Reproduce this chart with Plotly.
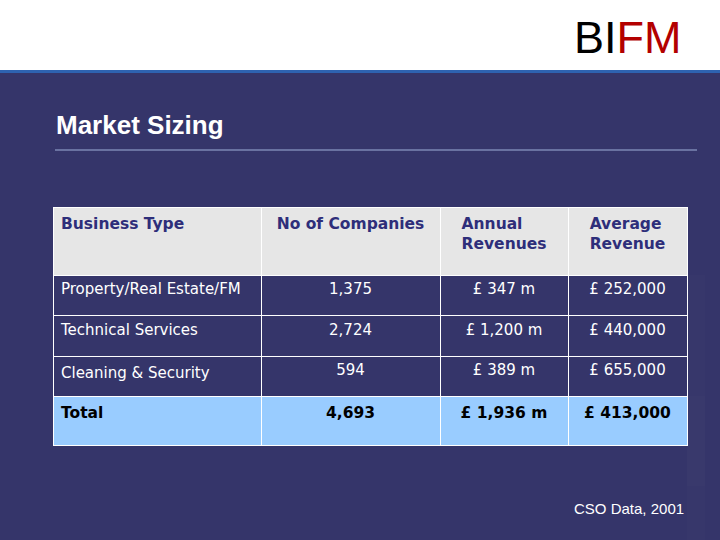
import plotly.graph_objects as go

headers = ["Business Type", "No of Companies", "Annual<br>Revenues", "Average<br>Revenue"]
business_types = ["Property/Real Estate/FM", "Technical Services", "Cleaning & Security"]
companies = ["1,375", "2,724", "594"]
annual_revenues = ["£ 347 m", "£ 1,200 m", "£ 389 m"]
average_revenue = ["£ 252,000", "£ 440,000", "£ 655,000"]
total_row = ["Total", "4,693", "£ 1,936 m", "£ 413,000"]

W, H = 720, 540
colw = [208, 179, 128, 119]
x0, x1 = 53 / W, 687 / W
font = "DejaVu Sans"
line = dict(color="white", width=1)

fig = go.Figure()
fig.add_trace(go.Table(
    domain=dict(x=[x0, x1], y=[0.1, 1 - 207 / H]),
    columnwidth=colw,
    header=dict(values=[f"<b>{h}</b>" for h in headers], height=68,
                fill_color="#e6e6e6", line=line,
                align=["left", "center", "center", "center"],
                font=dict(family=font, size=15.5, color="#2e2e7a")),
    cells=dict(values=[business_types, companies, annual_revenues, average_revenue],
               height=40.5, fill_color="#35356a", line=line,
               align=["left", "center", "center", "center"],
               font=dict(family=font, size=15, color="white")),
))
fig.add_trace(go.Table(
    domain=dict(x=[x0, x1], y=[0.0, 1 - 396 / H]),
    columnwidth=colw,
    header=dict(values=[f"<b>{v}</b>" for v in total_row], height=49,
                fill_color="#99ccff", line=line,
                align=["left", "center", "center", "center"],
                font=dict(family=font, size=15.5, color="black")),
    cells=dict(values=[[], [], [], []], height=0),
))

fig.update_layout(
    width=W, height=H, margin=dict(l=0, r=0, t=0, b=0),
    paper_bgcolor="#35356a", plot_bgcolor="#35356a",
    shapes=[
        dict(type="rect", xref="paper", yref="paper", x0=0, x1=1, y0=1 - 70 / H, y1=1,
             fillcolor="white", line=dict(width=0), layer="below"),
        dict(type="rect", xref="paper", yref="paper", x0=0, x1=1, y0=1 - 73 / H, y1=1 - 70 / H,
             fillcolor="#2e62b0", line=dict(width=0), layer="below"),
        dict(type="line", xref="paper", yref="paper", x0=55 / W, x1=697 / W,
             y0=1 - 150 / H, y1=1 - 150 / H, line=dict(color="#9fb0d8", width=1)),
    ],
    annotations=[
        dict(text="BI<span style='color:#b30000'>FM</span>", x=684 / W, y=1 - 37 / H,
             xref="paper", yref="paper", xanchor="right", yanchor="middle", showarrow=False,
             font=dict(family="Liberation Sans", size=45, color="black")),
        dict(text="<b>Market Sizing</b>", x=54 / W, y=1 - 125 / H, xref="paper", yref="paper",
             xanchor="left", yanchor="middle", showarrow=False,
             font=dict(family="Liberation Sans", size=26, color="white")),
        dict(text="CSO Data, 2001", x=686 / W, y=1 - 509 / H, xref="paper", yref="paper",
             xanchor="right", yanchor="middle", showarrow=False,
             font=dict(family="Liberation Sans", size=15, color="white")),
    ],
)
fig.write_html("out.html", config={"displayModeBar": False},
               post_script="document.body.style.margin='0';")
